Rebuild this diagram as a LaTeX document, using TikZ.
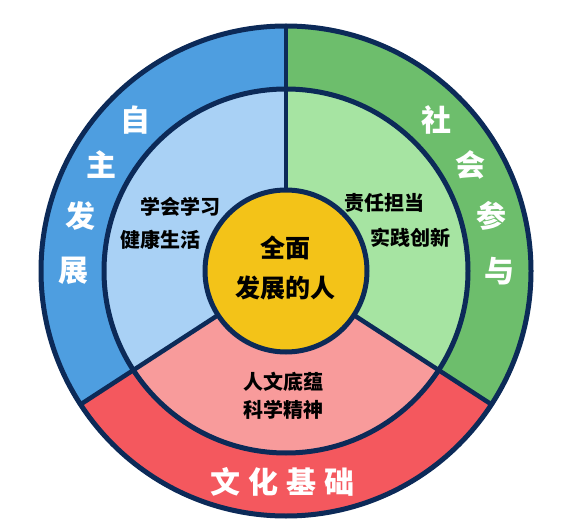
\documentclass[tikz,border=0pt]{standalone}
\usepackage{fontspec}
\usetikzlibrary{calc}
\newfontfamily\cjk{Noto Sans CJK SC}
\definecolor{BlueOuter}{HTML}{4E9EE0}
\definecolor{BlueInner}{HTML}{A9D1F5}
\definecolor{GreenOuter}{HTML}{6DBE6C}
\definecolor{GreenInner}{HTML}{A6E4A2}
\definecolor{RedOuter}{HTML}{F4585E}
\definecolor{RedInner}{HTML}{F89B9B}
\definecolor{CoreGold}{HTML}{F3C318}
\definecolor{Navy}{HTML}{0C2A58}

\begin{document}
\begin{tikzpicture}[
  x=1pt,
  y=1pt,
  ring/.style={draw=Navy,line width=5pt},
  divider/.style={draw=Navy,line width=4.5pt},
  outer label/.style={text=white,inner sep=0pt,
    font=\cjk\bfseries\fontsize{30}{32}\selectfont},
  inner label/.style={text=black,inner sep=1pt,
    font=\cjk\bfseries\fontsize{20}{22}\selectfont},
  core label/.style={text=black,inner sep=1pt,
    font=\cjk\bfseries\fontsize{25}{27}\selectfont}
]
  \useasboundingbox (0,0) rectangle (576,531);
  \coordinate (c) at (286,260);

  % outer ring
  \fill[BlueOuter] (c) -- ++(90:245) arc[start angle=90,end angle=213,radius=245] -- cycle;
  \fill[RedOuter] (c) -- ++(213:245) arc[start angle=213,end angle=327,radius=245] -- cycle;
  \fill[GreenOuter] (c) -- ++(327:245) arc[start angle=327,end angle=450,radius=245] -- cycle;

  % inner ring
  \fill[BlueInner] (c) -- ++(90:182) arc[start angle=90,end angle=213,radius=182] -- cycle;
  \fill[RedInner] (c) -- ++(213:182) arc[start angle=213,end angle=327,radius=182] -- cycle;
  \fill[GreenInner] (c) -- ++(327:182) arc[start angle=327,end angle=450,radius=182] -- cycle;

  \foreach \a in {90,213,327} {
    \draw[divider] ($(c)+(\a:81)$) -- ($(c)+(\a:245)$);
  }
  \draw[ring] (c) circle[radius=245];
  \draw[ring] (c) circle[radius=182];
  \filldraw[ring,fill=CoreGold] (c) circle[radius=81];

  % ring labels
  \foreach \ch/\a [count=\i] in {自/135,主/150,发/165,展/180} {
    \node[outer label] (left\i) at ($(c)+(\a:213)$) {\ch};
  }
  \foreach \ch/\a [count=\i] in {社/45,会/30,参/15,与/0} {
    \node[outer label] (right\i) at ($(c)+(\a:213)$) {\ch};
  }
  \foreach \ch [count=\i] in {文,化,基,础} {
    \node[outer label] (base\i) at (225+38*\i-38,49) {\ch};
  }

  \node[inner label] (learn) at (180,324) {学会学习};
  \node[inner label] (health) at (160,291) {健康生活};
  \node[inner label] (duty) at (384,328) {责任担当};
  \node[inner label] (practice) at (410,293) {实践创新};
  \node[inner label] (humanity) at (283,149) {人文底蕴};
  \node[inner label] (science) at (283,121) {科学精神};

  \node[core label] (whole) at (285,283) {全面};
  \node[core label] (person) at (285,243) {发展的人};
\end{tikzpicture}
\end{document}
